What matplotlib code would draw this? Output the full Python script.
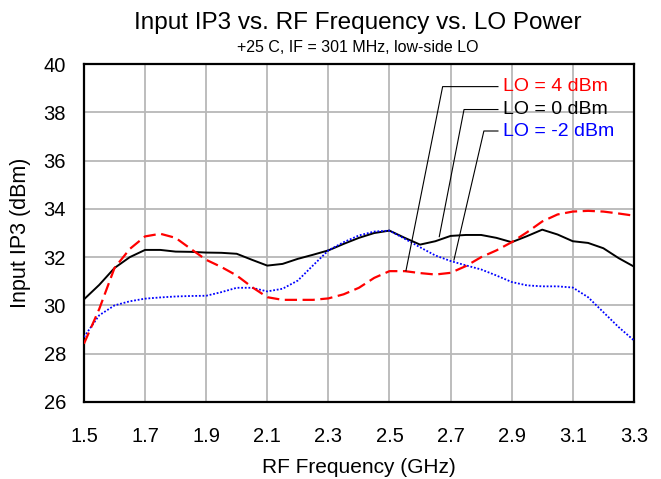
import matplotlib
matplotlib.use("Agg")
import matplotlib.pyplot as plt

plt.rcParams['font.family'] = ['Liberation Sans', 'DejaVu Sans']

# RF frequency (GHz)
freq = [1.50, 1.55, 1.60, 1.65, 1.70, 1.75, 1.80, 1.85, 1.90, 1.95, 2.00, 2.05,
        2.10, 2.15, 2.20, 2.25, 2.30, 2.35, 2.40, 2.45, 2.50, 2.55, 2.60, 2.65,
        2.70, 2.75, 2.80, 2.85, 2.90, 2.95, 3.00, 3.05, 3.10, 3.15, 3.20, 3.25, 3.30]

# Input IP3 (dBm) for each LO power
iip3_lo4 = [28.41, 29.85, 31.55, 32.34, 32.86, 32.97, 32.80, 32.34, 31.89, 31.59, 31.24, 30.76,
            30.34, 30.23, 30.23, 30.23, 30.29, 30.46, 30.73, 31.14, 31.42, 31.42, 31.34, 31.28,
            31.35, 31.63, 32.00, 32.28, 32.62, 33.03, 33.48, 33.77, 33.89, 33.92, 33.89, 33.81, 33.72]
iip3_lo0 = [30.25, 30.85, 31.55, 32.00, 32.30, 32.30, 32.23, 32.22, 32.19, 32.18, 32.14, 31.89,
            31.65, 31.72, 31.93, 32.10, 32.28, 32.55, 32.80, 33.00, 33.10, 32.80, 32.52, 32.66,
            32.88, 32.92, 32.92, 32.80, 32.62, 32.87, 33.14, 32.94, 32.66, 32.59, 32.37, 31.96, 31.61]
iip3_lom2 = [28.69, 29.59, 30.00, 30.17, 30.28, 30.33, 30.37, 30.39, 30.40, 30.55, 30.73, 30.73,
             30.58, 30.69, 31.03, 31.66, 32.28, 32.62, 32.90, 33.06, 33.10, 32.76, 32.41, 32.07,
             31.84, 31.66, 31.49, 31.24, 30.97, 30.83, 30.79, 30.79, 30.74, 30.34, 29.72, 29.10, 28.55]

xticks = [1.5, 1.7, 1.9, 2.1, 2.3, 2.5, 2.7, 2.9, 3.1, 3.3]
yticks = [26, 28, 30, 32, 34, 36, 38, 40]

fig = plt.figure(figsize=(6.61, 4.79), dpi=100)
ax = fig.add_axes([0.127, 0.161, 0.832, 0.705])

ax.plot(freq, iip3_lo0, color='black', lw=1.4, zorder=3)
ax.plot(freq, iip3_lom2, color='#0000ff', lw=1.3, linestyle=(0, (1, 1)), zorder=3)
ax.plot(freq, iip3_lo4, color='#ff0000', lw=1.6, linestyle=(0, (5.5, 2.5)), zorder=4)

# leader-line labels
labels = [("LO = 4 dBm", '#ff0000', 39.07, 2.674, (2.554, 31.44)),
          ("LO = 0 dBm", 'black', 38.12, 2.744, (2.663, 32.85)),
          ("LO = -2 dBm", '#0000ff', 37.23, 2.809, (2.711, 31.88))]
for txt, col, ty, cx, tip in labels:
    ax.plot([2.855, cx, tip[0]], [ty, ty, tip[1]], color='black', lw=0.8, zorder=5)
    ax.text(2.87, ty, txt, color=col, fontsize=14, va='center', ha='left', zorder=6)

ax.set_xlim(1.5, 3.3)
ax.set_ylim(26, 40)
ax.set_xticks(xticks)
ax.set_yticks(yticks)
ax.set_xticklabels([f"{v:.1f}" for v in xticks])
ax.tick_params(axis='both', length=0, labelsize=14.5)
ax.tick_params(axis='x', pad=18)
ax.tick_params(axis='y', pad=13)
ax.grid(True, color='#b8b8b8', lw=1.3)
ax.set_axisbelow(True)
for s in ax.spines.values():
    s.set_linewidth(1.6)
    s.set_color('black')

ax.set_xlabel("RF Frequency (GHz)", fontsize=15, labelpad=9)
ax.set_ylabel("Input IP3 (dBm)", fontsize=15.5, labelpad=9)

fig.text(0.541, 0.953, "Input IP3 vs. RF Frequency vs. LO Power", ha='center', va='center', fontsize=17.5)
fig.text(0.541, 0.901, "+25 C, IF = 301 MHz, low-side LO", ha='center', va='center', fontsize=11.5)

fig.savefig("out.png", dpi=100)
